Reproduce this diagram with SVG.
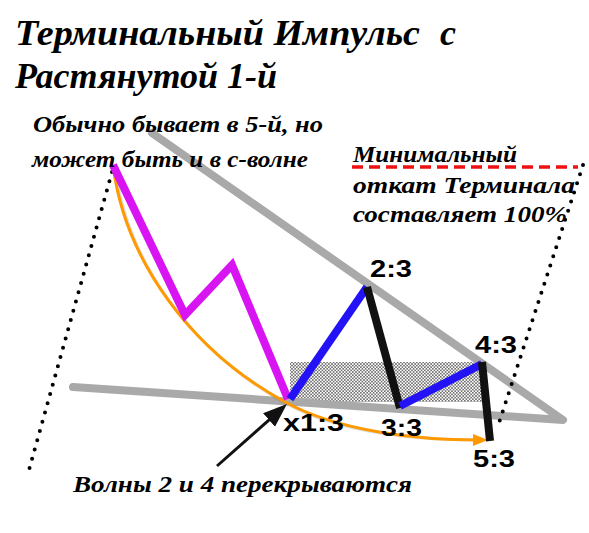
<svg xmlns="http://www.w3.org/2000/svg" width="589" height="533" viewBox="0 0 589 533">
<style>
.script{font-family:"Liberation Serif","DejaVu Serif",serif;font-style:italic;font-weight:bold;fill:#000}
.t1{font-size:36px}
.t2{font-size:24px}
.lbl{font-family:"Liberation Sans",Arial,sans-serif;font-weight:bold;font-size:24px;fill:#000}
.gray{fill:none;stroke:#a9a9a9;stroke-width:8;stroke-linejoin:round;stroke-linecap:round}
.mag{fill:none;stroke:#d914f2;stroke-width:8;stroke-linejoin:miter}
.blue{fill:none;stroke:#2212f5;stroke-width:8}
.blk{fill:none;stroke:#111;stroke-width:8}
.dots{fill:none;stroke:#000;stroke-width:4;stroke-linecap:round;stroke-dasharray:0 9.6}
</style>
<defs>
<pattern id="stip" width="3.2" height="3.2" patternUnits="userSpaceOnUse">
<circle cx="0.8" cy="0.8" r="0.75" fill="#000"/>
<circle cx="2.4" cy="2.4" r="0.75" fill="#000"/>
</pattern>
<marker id="ao" markerUnits="userSpaceOnUse" markerWidth="16" markerHeight="14" refX="5" refY="6" orient="auto">
<path d="M0,0 L15,6 L0,12 z" fill="#ff9900"/>
</marker>
<marker id="ab" markerUnits="userSpaceOnUse" markerWidth="26" markerHeight="20" refX="10" refY="9" orient="auto">
<path d="M0,0 L24,9 L0,18 z" fill="#111"/>
</marker>
</defs>
<rect width="589" height="533" fill="#fff"/>

<g id="overlap-zone">
<rect x="290" y="362" width="192" height="40" fill="url(#stip)" opacity="0.8"/>
</g>

<g id="connectors">
<polyline class="gray" points="152,133 563,420 73,387"/>
<line class="dots" x1="112" y1="172" x2="27" y2="477"/>
<line class="dots" x1="583" y1="165" x2="498" y2="426"/>
<line x1="352" y1="167" x2="578" y2="167" stroke="#ee1111" stroke-width="3.5" stroke-dasharray="11 6"/>
<path d="M115,167 C127,262 192,352 287,404 C342,434 420,440 478,440" fill="none" stroke="#000" stroke-opacity="0.12" stroke-width="3"/>
<path d="M113,165 C125,260 190,350 285,402 C340,432 420,440 478,440" fill="none" stroke="#ff9900" stroke-width="3" marker-end="url(#ao)"/>
<polyline class="mag" points="113,165 185,315 232,265 288,399"/>
<line class="blue" x1="290" y1="399" x2="367" y2="287"/>
<line class="blk" x1="367" y1="287" x2="400" y2="408"/>
<line class="blue" x1="400" y1="406" x2="482" y2="364"/>
<line class="blk" x1="482" y1="362" x2="490" y2="441"/>
<line x1="217" y1="466" x2="276.5" y2="413.3" stroke="#111" stroke-width="3" marker-end="url(#ab)"/>
</g>

<g id="title">
<text class="script t1" x="15" y="45"><tspan textLength="405" lengthAdjust="spacingAndGlyphs">Терминальный Импульс</tspan><tspan x="440">с</tspan></text>
<text class="script t1" x="15" y="88" textLength="262" lengthAdjust="spacingAndGlyphs">Растянутой 1-й</text>
</g>

<g id="note-wave">
<text class="script t2" x="33" y="132" textLength="290" lengthAdjust="spacingAndGlyphs">Обычно бывает в 5-й, но</text>
<text class="script t2" x="32" y="167" textLength="276" lengthAdjust="spacingAndGlyphs">может быть и в с-волне</text>
</g>

<g id="note-retrace">
<text class="script t2" x="353" y="162" textLength="164" lengthAdjust="spacingAndGlyphs">Минимальный</text>
<text class="script t2" x="353" y="193" textLength="222" lengthAdjust="spacingAndGlyphs">откат Терминала</text>
<text class="script t2" x="353" y="222" textLength="214" lengthAdjust="spacingAndGlyphs">составляет 100%</text>
</g>

<g id="note-overlap">
<text class="script t2" x="73" y="492" textLength="339" lengthAdjust="spacingAndGlyphs">Волны 2 и 4 перекрываются</text>
</g>

<g id="label-2-3"><text class="lbl" x="370" y="277" textLength="42" lengthAdjust="spacingAndGlyphs">2:3</text></g>
<g id="label-4-3"><text class="lbl" x="475" y="353" textLength="42" lengthAdjust="spacingAndGlyphs">4:3</text></g>
<g id="label-x1-3"><text class="lbl" x="283" y="431" textLength="61" lengthAdjust="spacingAndGlyphs">x1:3</text></g>
<g id="label-3-3"><text class="lbl" x="381" y="436" textLength="41" lengthAdjust="spacingAndGlyphs">3:3</text></g>
<g id="label-5-3"><text class="lbl" x="473" y="467" textLength="42" lengthAdjust="spacingAndGlyphs">5:3</text></g>
</svg>
